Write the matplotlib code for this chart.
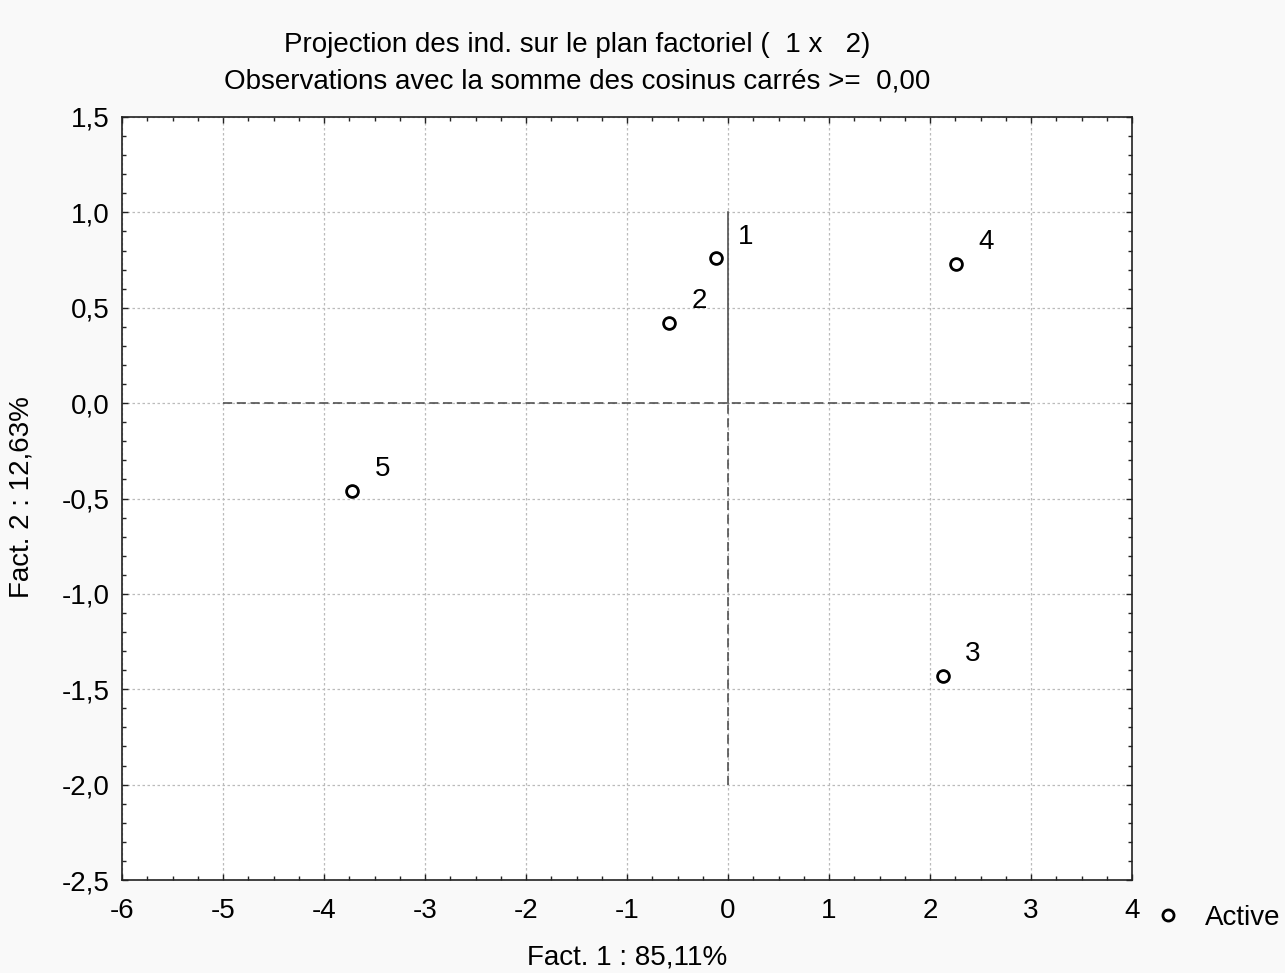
import matplotlib
matplotlib.use("Agg")
import matplotlib.pyplot as plt
from matplotlib.ticker import MultipleLocator, FuncFormatter
from matplotlib.lines import Line2D

plt.rcParams['font.family'] = ['Liberation Sans', 'DejaVu Sans']

labels = ["1", "2", "3", "4", "5"]
fact1 = [-0.12, -0.58, 2.13, 2.26, -3.72]
fact2 = [0.76, 0.42, -1.43, 0.73, -0.46]

title_lines = ["Projection des ind. sur le plan factoriel (  1 x   2)",
               "Observations avec la somme des cosinus carrés >=  0,00"]
xlabel = "Fact. 1 : 85,11%"
ylabel = "Fact. 2 : 12,63%"
legend_label = "Active"

FS = 20

fig = plt.figure(figsize=(12.85, 9.73), dpi=100, facecolor='#f9f9f9')
ax = fig.add_axes([122/1285, 1-880/973, (1132-122)/1285, (880-117)/973])
ax.set_facecolor('white')

ax.set_xlim(-6, 4)
ax.set_ylim(-2.5, 1.5)
ax.xaxis.set_major_locator(MultipleLocator(1))
ax.xaxis.set_minor_locator(MultipleLocator(0.25))
ax.yaxis.set_major_locator(MultipleLocator(0.5))
ax.yaxis.set_minor_locator(MultipleLocator(0.1))
ax.xaxis.set_major_formatter(FuncFormatter(lambda v, p: f"{v:.0f}".replace("−", "-") if abs(v) > 1e-9 else "0"))
ax.yaxis.set_major_formatter(FuncFormatter(lambda v, p: f"{v:.1f}".replace(".", ",") if abs(v) > 1e-9 else "0,0"))

ax.tick_params(which='both', direction='in', top=True, right=True, labelsize=FS, color='#222222')
ax.tick_params(which='major', length=4, width=1.0)
ax.tick_params(which='minor', length=3, width=1.0)
ax.tick_params(axis='y', which='major', pad=9)
ax.tick_params(axis='x', which='major', pad=13)
for s in ax.spines.values():
    s.set_linewidth(1.2)
    s.set_color('#222222')

ax.grid(True, which='major', linestyle=(0, (2, 2)), color='#bbbbbb', linewidth=0.9)
ax.set_axisbelow(True)

# origin axes
ax.plot([-5, 3], [0, 0], linestyle=(0, (6, 3)), color='#444444', linewidth=1.1, zorder=2)
ax.plot([0, 0], [0, 1], linestyle='-', color='#444444', linewidth=1.1, zorder=2)
ax.plot([0, 0], [-2, 0], linestyle=(0, (6, 3)), color='#444444', linewidth=1.1, zorder=2)

ax.plot(fact1, fact2, linestyle='none', marker='o', markersize=8.5, markerfacecolor='white',
        markeredgecolor='black', markeredgewidth=2, zorder=3)
for lab, xv, yv in zip(labels, fact1, fact2):
    ax.annotate(lab, (xv, yv), xytext=(21.6, 15.5), textcoords='offset points',
                ha='center', va='center', fontsize=FS)

fig.text(577/1285, 1-45/973, title_lines[0], ha='center', va='center', fontsize=FS)
fig.text(577/1285, 1-82/973, title_lines[1], ha='center', va='center', fontsize=FS)
fig.text(627/1285, 1-957/973, xlabel, ha='center', va='center', fontsize=FS)
fig.text(22/1285, 1-497/973, ylabel, ha='center', va='center', rotation=90, fontsize=FS)

h = Line2D([], [], linestyle='none', marker='o', markersize=8, markerfacecolor='white',
           markeredgecolor='black', markeredgewidth=2)
fig.legend([h], [legend_label], loc='center left', bbox_to_anchor=(1154/1285, 1-918/973),
           frameon=False, fontsize=FS, handletextpad=0.83, handlelength=1.0,
           borderpad=0, borderaxespad=0)

fig.savefig("out.png", dpi=100, facecolor=fig.get_facecolor())
